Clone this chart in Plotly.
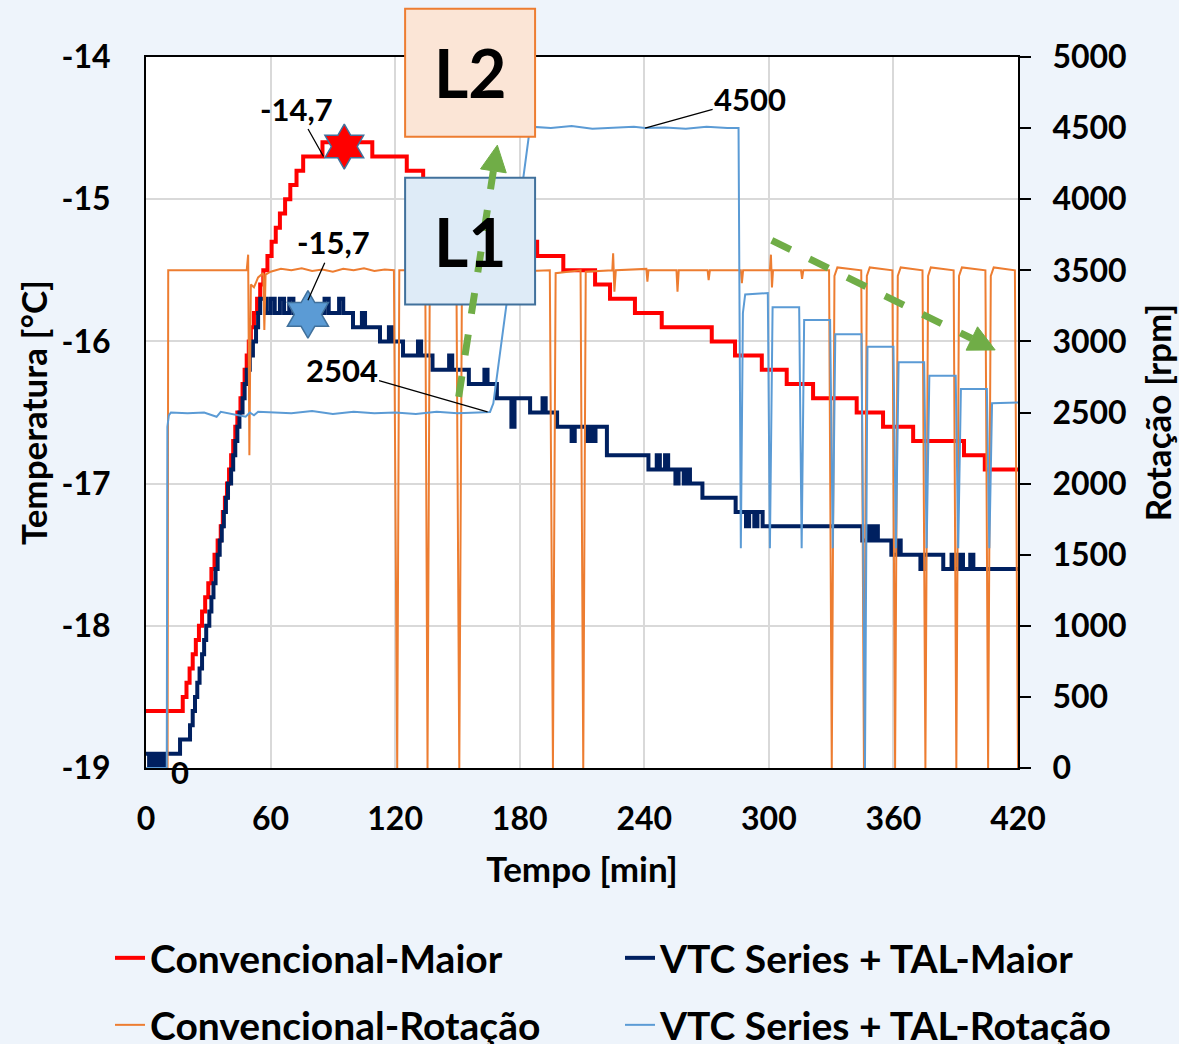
import plotly.graph_objects as go

# ---------------- data ----------------
# Convencional-Maior (temperature, step line)
conv_maior_t = [0, 17.7, 19.5, 21, 22.5, 24, 25.5, 27, 28.5, 30, 31.5, 33, 34.5, 36,
                37, 38, 39, 40, 41, 42, 43, 44, 45.5, 46.5, 47.5, 48.5, 49.5, 50.5, 52,
                53.5, 55, 56.5, 58.5, 60.5, 62.5, 64.5, 67, 69.5, 72.5, 75.7, 85, 109,
                125.6, 133.5, 141, 152, 163, 176, 188.4, 201, 216.3, 223.5, 235.5, 248.4,
                272.5, 283.7, 296.6, 308.6, 321.3, 342.3, 355, 369.5, 394, 404, 420]
conv_maior_v = [-18.6, -18.5, -18.4, -18.3, -18.2, -18.1, -18.0, -17.9, -17.8, -17.7, -17.6,
                -17.5, -17.4, -17.3, -17.2, -17.1, -17.0, -16.9, -16.8, -16.7, -16.6, -16.5,
                -16.4, -16.3, -16.2, -16.1, -16.0, -15.9, -15.8, -15.7, -15.6, -15.5, -15.4,
                -15.3, -15.2, -15.1, -15.0, -14.9, -14.8, -14.7, -14.6, -14.7, -14.8, -14.9,
                -15.0, -15.1, -15.2, -15.3, -15.4, -15.5, -15.6, -15.7, -15.8, -15.9, -16.0,
                -16.1, -16.2, -16.3, -16.4, -16.5, -16.6, -16.7, -16.8, -16.9, -16.9]

# VTC Series + TAL-Maior (temperature, step line)
vtc_maior_t = [0, 1.5, 3, 4.5, 6, 7.5, 9, 10, 16.4, 21.2, 22.5, 23.6, 24.7, 25.8, 27, 28,
               29, 30.5, 31.5, 32.5, 33.5, 34.5, 35.5, 36.5, 37.5, 38.5, 39.5, 41, 42, 43,
               44, 45, 46.5, 47.5, 48.5, 50, 51.5, 53, 54, 55, 58, 60, 62, 64.5, 66.5, 69,
               71, 86, 88, 93, 95, 99.7, 104, 105.5, 112.7, 117, 118.5, 123.8, 131, 132.5,
               138, 146, 147.5, 155.5, 163, 164.5, 169, 176, 177.5, 185, 191, 192.5, 198, 205,
               206.5, 212, 213.5, 215, 216.5, 222, 242, 246, 247.5, 250, 251.5, 255, 256.5,
               259, 260.5, 262, 268, 284, 289, 290.5, 293, 294.5, 297, 345, 348, 349.5, 351,
               352.5, 359, 362, 363.5, 373, 374.5, 384, 388, 389.5, 392, 393.5, 397, 398.5, 420]
vtc_maior_v = [-18.9, -19.0, -18.9, -19.0, -18.9, -19.0, -18.9, -18.9,
               -18.8, -18.7, -18.6, -18.5, -18.4, -18.3, -18.2, -18.1, -18.0, -17.9, -17.8,
               -17.7, -17.6, -17.5, -17.4, -17.3, -17.2, -17.1, -17.0, -16.9, -16.8, -16.7,
               -16.6, -16.5, -16.4, -16.3, -16.2, -16.1, -16.0, -15.9, -15.8, -15.7, -15.8,
               -15.7, -15.8, -15.7, -15.8, -15.7, -15.8, -15.7, -15.8, -15.7,
               -15.8, -15.9, -15.8, -15.9, -16.0, -15.9, -16.0, -16.1, -16.0, -16.1, -16.2,
               -16.1, -16.2, -16.3, -16.2, -16.3, -16.4, -16.6, -16.4, -16.5, -16.4, -16.5,
               -16.6, -16.7, -16.6, -16.7, -16.6, -16.7, -16.6, -16.8, -16.9, -16.8, -16.9,
               -16.8, -16.9, -17.0, -16.9, -17.0, -16.9, -17.0, -17.1, -17.2, -17.3, -17.2,
               -17.3, -17.2, -17.3, -17.4, -17.3, -17.4, -17.3, -17.4, -17.5, -17.4, -17.5,
               -17.6, -17.5, -17.6, -17.5, -17.6, -17.5, -17.6, -17.5, -17.6, -17.6]

# Convencional-Rotação (rpm)
conv_rot_t = [0, 10.4, 10.7, 48.5, 49.2, 49.8, 50.5, 52, 54, 56.5, 57, 57.6, 60, 65, 70, 75,
              80, 85, 90, 95, 100, 105, 110, 115, 119.4, 121, 122, 134.5, 135.6, 136.7,
              149.5, 150.9, 152.2, 170, 185, 194.5, 196, 197.3, 209.3, 210.6, 211.8, 224.6,
              225, 225.6, 226.3, 241, 241.5, 242, 255.5, 256, 256.6, 270.5, 271, 271.6,
              286.5, 287, 287.6, 300.5, 301, 301.5, 302, 315.5, 316, 316.6, 329, 330.3,
              331.6, 333, 344.5, 345.8, 347.2, 348.6, 359.5, 360.8, 362.1, 363.5, 374,
              375.4, 376.7, 378, 389, 390.3, 391.6, 393, 404.3, 405.6, 406.9, 408.3, 418.5, 420]
conv_rot_v = [0, 0, 3500, 3500, 3610, 2200, 3400, 3380, 3450, 3480, 3080, 3470, 3490, 3510,
              3500, 3515, 3495, 3505, 3490, 3510, 3500, 3515, 3495, 3505, 3500, 0, 3500, 3500,
              0, 3500, 3500, 0, 3500, 3505, 3495, 3500, 0, 3480, 3500, 0, 3490, 3500, 3620,
              3350, 3500, 3510, 3420, 3500, 3500, 3350, 3500, 3500, 3430, 3500, 3500, 3410,
              3500, 3500, 3610, 3380, 3500, 3500, 3440, 3500, 3500, 0, 3460, 3520, 3500, 0,
              3460, 3520, 3500, 0, 3460, 3520, 3500, 0, 3460, 3520, 3500, 0, 3460, 3520,
              3500, 0, 3460, 3520, 3500, 0]

# VTC Series + TAL-Rotação (rpm)
vtc_rot_t = [0, 10, 10.3, 11, 12, 20, 28, 34, 36, 40, 48, 50, 52, 54, 60, 70, 80, 90, 100,
             110, 120, 130, 140, 150, 160, 165.7, 167.3, 185, 195, 205, 215, 225, 235, 240.4,
             250, 260, 270, 280, 285.4, 286.5, 287.5, 288.6, 299.5, 300.5, 301.8, 314.6,
             315.8, 317, 329.5, 330.8, 332, 344.6, 346.3, 347.5, 360, 361.2, 362.5, 374.8,
             376, 377.3, 390, 391.2, 392.5, 405, 406.2, 407.5, 420]
vtc_rot_v = [0, 0, 2400, 2480, 2500, 2495, 2500, 2470, 2505, 2495, 2470, 2500, 2480, 2505,
             2500, 2495, 2510, 2490, 2505, 2495, 2500, 2490, 2505, 2495, 2500, 2504, 2565,
             4510, 4500, 4515, 4495, 4505, 4510, 4500, 4505, 4495, 4510, 4500, 4500, 1545,
             3200, 3330, 3340, 1545, 3240, 3240, 1545, 3150, 3150, 1545, 3050, 3050, 0, 2963,
             2963, 1545, 2853, 2853, 1545, 2759, 2759, 1545, 2665, 2665, 1545, 2565, 2570]

# highlighted peaks (stars)
peak_t = [95.5, 78.0]
peak_v = [-14.63, -15.81]

x_ticks = [0, 60, 120, 180, 240, 300, 360, 420]
y_ticks = [-19, -18, -17, -16, -15, -14]
y_ticklabels = ["-19", "-18", "-17", "-16", "-15", "-14"]
y2_ticks = [0, 500, 1000, 1500, 2000, 2500, 3000, 3500, 4000, 4500, 5000]

RED = "#ff0000"
NAVY = "#002060"
ORANGE = "#ed7d31"
LBLUE = "#5b9bd5"
GREEN = "#70ad47"
FONT = "Lato"

# ---------------- geometry helpers ----------------
W, H = 1179, 1044
ML, MR, MT, MB = 146, 161, 57, 276
PL, PR, PT, PB = ML, W - MR, MT, H - MB
XMIN, XMAX = 0, 420
YMIN, YMAX = -19, -14


def px(t):
    return PL + (t - XMIN) / (XMAX - XMIN) * (PR - PL)


def py(v):
    return PT + (YMAX - v) / (YMAX - YMIN) * (PB - PT)


def paper_x(x):
    return (x - PL) / (PR - PL)


def paper_y(y):
    return (PB - y) / (PB - PT)


fig = go.Figure()

fig.add_trace(go.Scatter(x=conv_maior_t, y=conv_maior_v, mode="lines", name="Convencional-Maior",
                         line=dict(color=RED, width=4, shape="hv"), legend="legend"))
fig.add_trace(go.Scatter(x=vtc_maior_t, y=vtc_maior_v, mode="lines", name="VTC Series + TAL-Maior",
                         line=dict(color=NAVY, width=4, shape="hv"), legend="legend2"))
fig.add_trace(go.Scatter(x=conv_rot_t, y=conv_rot_v, mode="lines", name="Convencional-Rotação",
                         line=dict(color=ORANGE, width=2), yaxis="y2", legend="legend3"))
fig.add_trace(go.Scatter(x=vtc_rot_t, y=vtc_rot_v, mode="lines", name="VTC Series + TAL-Rotação",
                         line=dict(color=LBLUE, width=2), yaxis="y2", legend="legend4"))
fig.add_trace(go.Scatter(x=peak_t, y=peak_v, mode="markers", showlegend=False,
                         marker=dict(symbol="hexagram", size=[34, 36], color=[RED, LBLUE],
                                     opacity=1, line=dict(color="#41719c", width=1.5))))

# ---------------- boxes L1 / L2 ----------------
shapes = []
boxes = [  # (t0, t1, v_top, v_bottom, fill, border, text)
    (124.8, 187.4, -13.66, -14.56, "#fbe5d6", ORANGE, "L2"),
    (124.8, 187.4, -14.85, -15.74, "#deebf7", "#41719c", "L1"),
]
annotations = []
for t0, t1, vt, vb, fill, border, txt in boxes:
    shapes.append(dict(type="rect", xref="paper", yref="paper",
                       x0=paper_x(px(t0)), x1=paper_x(px(t1)),
                       y0=paper_y(py(vb)), y1=paper_y(py(vt)),
                       fillcolor=fill, line=dict(color=border, width=2), layer="above"))
    annotations.append(dict(xref="paper", yref="paper", xanchor="center", yanchor="middle",
                            x=paper_x(px((t0 + t1) / 2)), y=paper_y(py((vt + vb) / 2)),
                            text=txt, showarrow=False,
                            font=dict(family=FONT, size=66, color="black", weight="bold")))

# ---------------- green dashed arrows ----------------
arrows = [((150.6, -16.39), (169.2, -14.62)), ((301.4, -15.29), (409.0, -16.06))]
for (ta, va), (tb, vb) in arrows:
    x0, y0, x1, y1 = px(ta), py(va), px(tb), py(vb)
    dx, dy = x1 - x0, y1 - y0
    L = (dx * dx + dy * dy) ** 0.5
    ux, uy = dx / L, dy / L
    hl, hw = 26, 13
    bx, by = x1 - ux * hl, y1 - uy * hl
    shapes.append(dict(type="line", xref="paper", yref="paper",
                       x0=paper_x(x0), y0=paper_y(y0), x1=paper_x(bx), y1=paper_y(by),
                       line=dict(color=GREEN, width=7, dash="dash"), layer="above"))
    c1 = (bx - uy * hw, by + ux * hw)
    c2 = (bx + uy * hw, by - ux * hw)
    path = "M{:.4f},{:.4f} L{:.4f},{:.4f} L{:.4f},{:.4f} Z".format(
        paper_x(x1), paper_y(y1), paper_x(c1[0]), paper_y(c1[1]), paper_x(c2[0]), paper_y(c2[1]))
    shapes.append(dict(type="path", xref="paper", yref="paper", path=path,
                       fillcolor=GREEN, line=dict(color=GREEN, width=1), layer="above"))

# ---------------- data labels ----------------
lab_font = dict(family=FONT, size=31, color="black", weight="bold")
annotations += [
    dict(x=85.5, y=-14.7, xref="x", yref="y", text="-14,7", ax=-27, ay=-48,
         showarrow=True, arrowhead=0, arrowwidth=1.3, arrowcolor="black", font=lab_font),
    dict(x=78.0, y=-15.71, xref="x", yref="y", text="-15,7", ax=26, ay=-58,
         showarrow=True, arrowhead=0, arrowwidth=1.3, arrowcolor="black", font=lab_font),
    dict(x=164.5, y=2504, xref="x", yref="y2", text="2504", ax=-146, ay=-42,
         showarrow=True, arrowhead=0, arrowwidth=1.3, arrowcolor="black", font=lab_font),
    dict(x=240.4, y=4500, xref="x", yref="y2", text="4500", ax=105, ay=-29,
         showarrow=True, arrowhead=0, arrowwidth=1.3, arrowcolor="black", font=lab_font),
    dict(x=16.4, y=0, xref="x", yref="y2", text="0", showarrow=False, yshift=-4,
         font=lab_font),
]

tick_font = dict(family=FONT, size=32, color="black", weight="bold")
title_font = dict(family=FONT, size=35, color="black", weight="bold")
leg_font = dict(family=FONT, size=39, color="black", weight="bold")

row1, row2 = paper_y(958), paper_y(1025)
col1, col2 = paper_x(110), paper_x(620)
legs = {}
for name, (lx, ly) in zip(["legend", "legend2", "legend3", "legend4"],
                          [(col1, row1), (col2, row1), (col1, row2), (col2, row2)]):
    legs[name] = dict(x=lx, y=ly, xanchor="left", yanchor="middle", bgcolor="rgba(0,0,0,0)",
                      font=leg_font, borderwidth=0)

fig.update_layout(
    width=W, height=H,
    margin=dict(l=ML, r=MR, t=MT, b=MB, autoexpand=False),
    paper_bgcolor="#eef4fb",
    plot_bgcolor="white",
    font=dict(family=FONT, color="black"),
    shapes=shapes,
    annotations=annotations,
    xaxis=dict(range=[XMIN, XMAX], tickvals=x_ticks, showgrid=True, gridcolor="#d9d9d9",
               gridwidth=2, showline=True, linecolor="black", linewidth=2, mirror=True,
               ticks="", tickfont=tick_font, ticklabelstandoff=22, zeroline=False,
               title=dict(text="Tempo [min]", font=title_font, standoff=21)),
    yaxis=dict(range=[YMIN, YMAX], tickvals=y_ticks, ticktext=y_ticklabels, showgrid=True,
               gridcolor="#d9d9d9", gridwidth=2, showline=True, linecolor="black",
               linewidth=2, ticks="", tickfont=tick_font, ticklabelstandoff=27,
               zeroline=False,
               title=dict(text="Temperatura [°C]", font=title_font, standoff=3)),
    yaxis2=dict(range=[0, 5000], tickvals=y2_ticks, overlaying="y", side="right",
                showgrid=False, showline=True, linecolor="black", linewidth=2,
                ticks="outside", ticklen=11, tickwidth=2, tickcolor="black",
                tickfont=tick_font, ticklabelstandoff=15, zeroline=False,
                title=dict(text="Rotação [rpm]", font=title_font, standoff=21)),
    **legs,
)

fig.write_html("out.html", config={"displayModeBar": False},
               post_script="document.body.style.margin='0';")
